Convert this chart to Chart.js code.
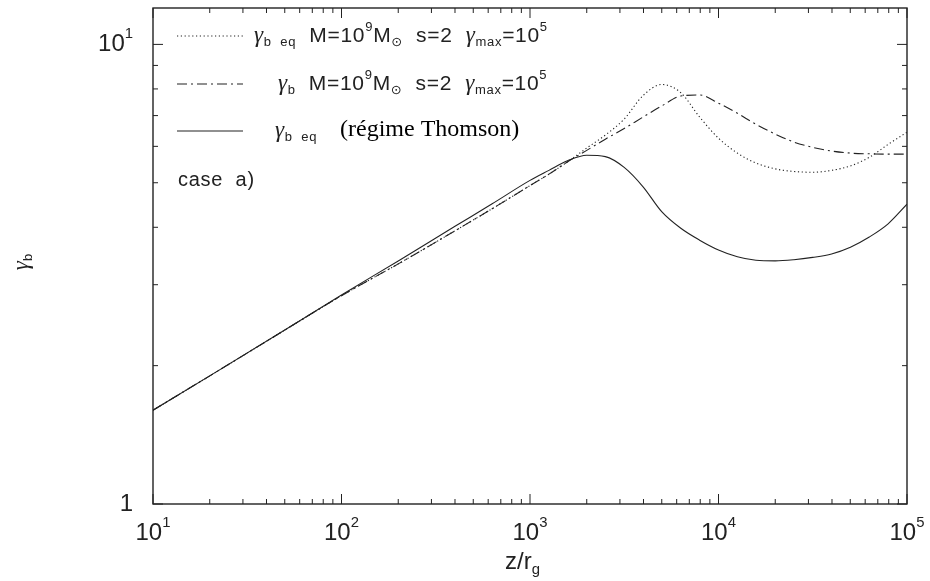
<!DOCTYPE html>
<html>
<head>
<meta charset="utf-8">
<script src="https://cdn.jsdelivr.net/npm/chart.js@4/dist/chart.umd.min.js"></script>
<style>
  body { margin: 0; background: #fff; }
  #wrap { width: 930px; height: 581px; position: relative; }
</style>
</head>
<body>
<div id="wrap"><canvas id="canvas"></canvas></div>
<script>
'use strict'

// z / r_g sample positions (log spaced)
const zValues = [10, 20, 50, 100, 200, 400, 630, 1000, 1260, 1580, 2000, 2510, 3160, 3980, 5010,
  6310, 7940, 10000, 12600, 15800, 20000, 25100, 31600, 39800, 50100, 63100, 79400, 100000]

// dotted: gamma_b eq, M=1e9 Msun, s=2, gamma_max=1e5
const gammaEqFull = [1.60, 1.90, 2.39, 2.84, 3.33, 3.93, 4.39, 4.93, 5.22, 5.55, 5.95, 6.35, 6.88, 7.74, 8.18,
  7.85, 6.95, 6.25, 5.80, 5.52, 5.36, 5.29, 5.27, 5.32, 5.44, 5.68, 6.06, 6.44]

// dash-dot: gamma_b, M=1e9 Msun, s=2, gamma_max=1e5
const gammaB = [1.60, 1.90, 2.39, 2.84, 3.33, 3.93, 4.39, 4.93, 5.22, 5.55, 5.88, 6.22, 6.56, 6.95, 7.35,
  7.72, 7.76, 7.45, 7.08, 6.70, 6.38, 6.13, 5.97, 5.86, 5.80, 5.78, 5.77, 5.77]

// solid: gamma_b eq (Thomson regime)
const gammaThomson = [1.60, 1.90, 2.39, 2.85, 3.38, 4.02, 4.50, 5.06, 5.32, 5.58, 5.74, 5.70, 5.40, 4.90, 4.32,
  3.98, 3.75, 3.57, 3.45, 3.39, 3.38, 3.40, 3.44, 3.50, 3.62, 3.81, 4.07, 4.49]

const xTickExponents = ['1', '2', '3', '4', '5']
const yTickValues = [1, 10]

// rich text pieces: [text, level] level 0 normal, 1 subscript, -1 superscript, 'g' = greek
const legendLabels = [
  [['γ', 'g'], ['b  eq', 1], ['  M=10', 0], ['9', -1], ['M', 0], ['⊙', 1], ['  s=2  ', 0], ['γ', 'g'], ['max', 1], ['=10', 0], ['5', -1]],
  [['γ', 'g'], ['b', 1], ['  M=10', 0], ['9', -1], ['M', 0], ['⊙', 1], ['  s=2  ', 0], ['γ', 'g'], ['max', 1], ['=10', 0], ['5', -1]],
  [['γ', 'g'], ['b  eq', 1]]
]
const legendExtra = '(régime Thomson)'
const caseLabel = 'case  a)'

const dotted = [1.2, 2.6]
const dashDot = [10, 4, 2, 4]
const ink = '#222'
const sans = '"Liberation Sans", "DejaVu Sans", sans-serif'
const greek = '"Liberation Serif", "DejaVu Serif", serif'

const segFont = (lvl, size) => {
  if (lvl === 'g') return `italic ${size * 1.1}px ${greek}`
  return `${lvl === 0 ? size : size * 0.62}px ${sans}`
}

const drawRich = (ctx, x, y, segs, size) => {
  ctx.textBaseline = 'middle'
  ctx.textAlign = 'left'
  segs.forEach(([t, lvl]) => {
    const dy = lvl === 1 ? size * 0.32 : lvl === -1 ? -size * 0.42 : 0
    ctx.font = segFont(lvl, size)
    ctx.fillText(t, x, y + dy)
    x += ctx.measureText(t).width
  })
  return x
}

const richWidth = (ctx, segs, size) => segs.reduce((w, [t, lvl]) => {
  ctx.font = segFont(lvl, size)
  return w + ctx.measureText(t).width
}, 0)

const framePlugin = {
  id: 'frame',
  afterDraw (chart) {
    const { ctx, chartArea: a, scales: { x, y } } = chart
    ctx.save()
    ctx.strokeStyle = ink
    ctx.fillStyle = ink
    ctx.lineWidth = 1.4
    ctx.setLineDash([])
    ctx.strokeRect(a.left, a.top, a.right - a.left, a.bottom - a.top)

    // inward ticks, all four sides
    ctx.lineWidth = 1
    ctx.beginPath()
    for (let k = 1; k <= 5; k++) {
      for (let m = 1; m <= 9; m++) {
        const v = m * Math.pow(10, k)
        if (v > 100000) break
        const px = x.getPixelForValue(v)
        const len = m === 1 ? 10 : 5
        ctx.moveTo(px, a.bottom); ctx.lineTo(px, a.bottom - len)
        ctx.moveTo(px, a.top); ctx.lineTo(px, a.top + len)
      }
    }
    for (let v = 1; v <= 10; v++) {
      const py = y.getPixelForValue(v)
      const len = (v === 1 || v === 10) ? 10 : 5
      ctx.moveTo(a.left, py); ctx.lineTo(a.left + len, py)
      ctx.moveTo(a.right, py); ctx.lineTo(a.right - len, py)
    }
    ctx.stroke()

    // x tick labels
    xTickExponents.forEach(e => {
      const segs = [['10', 0], [e, -1]]
      const w = richWidth(ctx, segs, 24)
      drawRich(ctx, x.getPixelForValue(Math.pow(10, +e)) - w / 2, 533, segs, 24)
    })
    // y tick labels
    yTickValues.forEach(v => {
      const segs = v === 1 ? [['1', 0]] : [['10', 0], ['1', -1]]
      const w = richWidth(ctx, segs, 24)
      drawRich(ctx, 133 - w, y.getPixelForValue(v), segs, 24)
    })

    // axis titles
    drawRich(ctx, 505, 562, [['z/r', 0], ['g', 1]], 24)
    ctx.save()
    ctx.translate(22, 262)
    ctx.rotate(-Math.PI / 2)
    const ySegs = [['γ', 'g'], ['b', 1]]
    const tw = richWidth(ctx, ySegs, 21)
    drawRich(ctx, -tw / 2, 0, ySegs, 21)
    ctx.restore()

    // legend
    const rows = [
      { y: 36, dash: dotted, x: 254 },
      { y: 84, dash: dashDot, x: 278 },
      { y: 131, dash: [], x: 275 }
    ]
    rows.forEach((r, i) => {
      ctx.setLineDash(r.dash)
      ctx.lineWidth = 1.1
      ctx.beginPath()
      ctx.moveTo(177, r.y); ctx.lineTo(243, r.y)
      ctx.stroke()
      ctx.setLineDash([])
      ctx.letterSpacing = '0.7px'
      drawRich(ctx, r.x, r.y, legendLabels[i], 21)
      ctx.letterSpacing = '0px'
    })
    ctx.font = '24px "Liberation Serif", "DejaVu Serif", serif'
    ctx.fillStyle = '#000'
    ctx.textBaseline = 'middle'
    ctx.fillText(legendExtra, 340, 130)
    ctx.fillStyle = ink
    ctx.font = `20px ${sans}`
    ctx.letterSpacing = '0.7px'
    ctx.fillText(caseLabel, 178, 180)
    ctx.restore()
  }
}

const series = (label, values, dash) => ({
  label,
  data: zValues.map((z, i) => ({ x: z, y: values[i] })),
  showLine: true,
  borderColor: ink,
  borderWidth: 1.1,
  borderDash: dash,
  pointRadius: 0,
  cubicInterpolationMode: 'monotone',
  fill: false
})

const ctx = document.getElementById('canvas').getContext('2d')
new Chart(ctx, {
  type: 'scatter',
  data: {
    datasets: [
      series('γb eq M=10^9 Msun s=2 γmax=10^5', gammaEqFull, dotted),
      series('γb M=10^9 Msun s=2 γmax=10^5', gammaB, dashDot),
      series('γb eq (régime Thomson)', gammaThomson, [])
    ]
  },
  options: {
    responsive: true,
    maintainAspectRatio: false,
    animation: false,
    layout: { padding: { left: 153, right: 23, top: 8, bottom: 77 } },
    plugins: { legend: { display: false }, tooltip: { enabled: false } },
    scales: {
      x: { type: 'logarithmic', min: 10, max: 100000, display: false },
      y: { type: 'logarithmic', min: 1, max: 12, display: false }
    }
  },
  plugins: [framePlugin]
})
</script>
</body>
</html>
